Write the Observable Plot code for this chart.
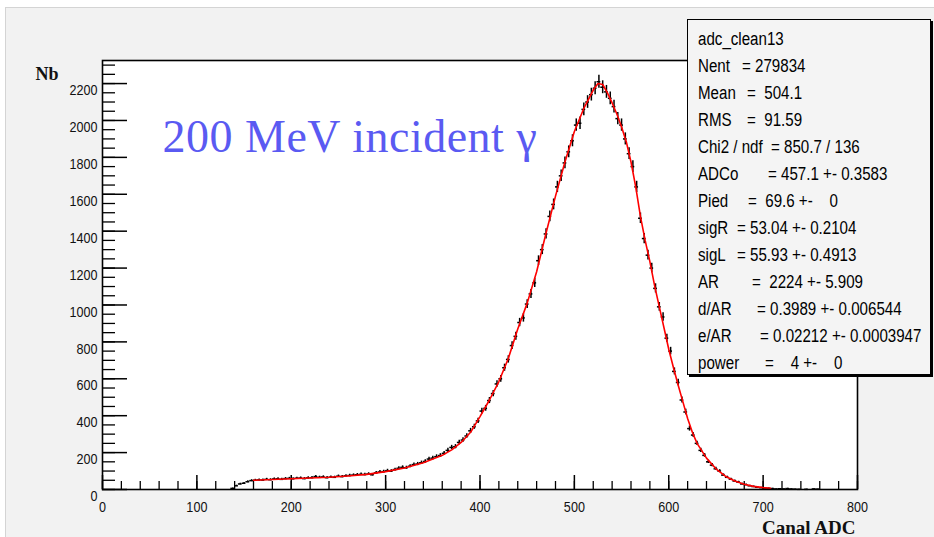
<!DOCTYPE html>
<html>
<head>
<meta charset="utf-8">
<script src="https://cdn.jsdelivr.net/npm/d3@7"></script>
<script src="https://cdn.jsdelivr.net/npm/@observablehq/plot@0.6"></script>
<style>
  html, body { margin: 0; padding: 0; background: #fff; }
  #canvas { position: relative; width: 934px; height: 537px; overflow: hidden; }
  #pad { position: absolute; left: 5px; top: 7px; right: 0; bottom: 0; background: #f2f2f2;
         border-left: 1px solid #d4d4d4; border-top: 1px solid #d4d4d4; }
  #chart { position: absolute; left: 0; top: 0; }
  #stats { position: absolute; left: 687px; top: 19px; width: 242px; height: 354px;
           background: #f4f4f4; border: 1.5px solid #000; box-shadow: 2px 2px 0 #000;
           overflow: hidden; font-family: "Liberation Sans", Arial, sans-serif;
           font-size: 18px; color: #000; }
  #stats div { position: absolute; white-space: pre; line-height: 1;
               transform: scaleX(0.84); transform-origin: 0 0; }
</style>
</head>
<body>
<div id="canvas">
  <div id="pad"></div>
  <div id="chart"></div>
  <div id="stats"></div>
</div>
<script>
// Histogram adc_clean13: 4-channel bins starting at channel 136
const binLow = 136;
const binWidth = 4;
const counts = [
  6, 20, 30, 34, 42, 48, 50, 52, 51, 55,
  53, 57, 58, 55, 59, 60, 58, 61, 62, 59,
  63, 64, 70, 66, 68, 64, 67, 66, 72, 70,
  74, 76, 78, 80, 82, 81, 84, 80, 90, 95,
  97, 102, 100, 108, 115, 120, 118, 126, 135, 138,
  145, 152, 165, 170, 178, 184, 196, 212, 228, 232,
  255, 268, 290, 318, 340, 372, 425, 440, 482, 520,
  572, 600, 660, 705, 780, 830, 905, 930, 1005, 1060,
  1120, 1240, 1300, 1385, 1480, 1545, 1640, 1700, 1770, 1830,
  1890, 1975, 1985, 2060, 2100, 2140, 2175, 2210, 2180, 2155,
  2120, 2075, 2010, 1975, 1900, 1820, 1750, 1640, 1470, 1360,
  1270, 1200, 1090, 990, 935, 820, 750, 640, 580, 485,
  420, 330, 295, 250, 212, 185, 150, 132, 112, 100,
  78, 66, 56, 46, 40, 30, 26, 20, 16, 12,
  10, 8, 6, 5, 3, 4, 3, 5, 3, 2,
  1, 0, 1, 0, 3, 2
];

// Fitted function, sampled along the fit range
const fitX = [160, 180, 200, 220, 240, 260, 280, 300, 320, 340, 360, 370, 380, 390, 400, 410, 420, 430, 440, 450,
              460, 470, 480, 490, 500, 510, 520, 525, 530, 535, 540, 545, 550, 555, 560, 565, 570, 575, 580, 585,
              590, 595, 600, 605, 610, 615, 620, 625, 630, 640, 650, 660, 670, 680, 690, 700, 708];
const fitY = [50, 54, 58, 62, 66, 73, 82, 97, 117, 145, 185, 215, 255, 310, 395, 485, 585, 710, 870, 1010,
              1180, 1390, 1590, 1775, 1940, 2065, 2165, 2200, 2195, 2150, 2095, 2035, 1965, 1885, 1775, 1640, 1480, 1350, 1235, 1105,
              990, 875, 760, 660, 565, 475, 385, 310, 250, 170, 112, 72, 46, 28, 17, 10, 6];

// Axis ticks and labels
const xMajorTicks = [0, 100, 200, 300, 400, 500, 600, 700, 800];
const xMinorTicks = d3.range(0, 801, 20);
const yMajorTicks = [0, 200, 400, 600, 800, 1000, 1200, 1400, 1600, 1800, 2000, 2200];
const yMinorTicks = d3.range(0, 2301, 50);

const titleText = "200 MeV incident \u03b3";
const xTitle = "Canal ADC";
const yTitle = "Nb";

// Fit statistics panel
const statsHeader = "adc_clean13";
const statsNames = ["Nent", "Mean", "RMS", "Chi2 / ndf", "ADCo", "Pied", "sigR", "sigL", "AR", "d/AR", "e/AR", "power"];
const statsValues = [
  "= 279834",
  "=  504.1",
  "=  91.59",
  "= 850.7 / 136",
  "= 457.1 +- 0.3583",
  "=  69.6 +-    0",
  "= 53.04 +- 0.2104",
  "= 55.93 +- 0.4913",
  "=  2224 +- 5.909",
  "= 0.3989 +- 0.006544",
  "= 0.02212 +- 0.0003947",
  "=    4 +-    0"
];

const bins = counts
  .map((n, i) => ({x: binLow + binWidth * (i + 0.5), n, err: 0.75 * Math.sqrt(n)}))
  .filter(d => d.n > 0);
const fit = fitX.map((x, i) => ({x, y: fitY[i]}));

const sans = "'Liberation Sans', Arial, sans-serif";
const serif = "'Liberation Serif', 'DejaVu Serif', serif";

const chart = Plot.plot({
  width: 934,
  height: 537,
  marginLeft: 102,
  marginRight: 77,
  marginTop: 60,
  marginBottom: 48,
  x: {domain: [0, 800], axis: null},
  y: {domain: [0, 2325], axis: null},
  style: {background: "transparent", overflow: "visible"},
  marks: [
    Plot.frame({fill: "white"}),
    // inward ticks along the left and bottom edges
    Plot.tickX(xMinorTicks, {x: d => d, insetTop: 421, stroke: "#000", strokeWidth: 1.3}),
    Plot.tickX(xMajorTicks, {x: d => d, insetTop: 415, stroke: "#000", strokeWidth: 1.5}),
    Plot.tickY(yMinorTicks, {y: d => d, insetRight: 742, stroke: "#000", strokeWidth: 1.3}),
    Plot.tickY(yMajorTicks, {y: d => d, insetRight: 730, stroke: "#000", strokeWidth: 1.5}),
    // histogram points with error bars
    Plot.ruleX(bins, {x: "x", y1: d => d.n - d.err, y2: d => d.n + d.err, stroke: "#000", strokeWidth: 1.5}),
    Plot.ruleY(bins, {y: "n", x1: d => d.x - binWidth / 2, x2: d => d.x + binWidth / 2, stroke: "#000", strokeWidth: 1.5}),
    // fit curve
    Plot.line(fit, {x: "x", y: "y", stroke: "#ff0000", strokeWidth: 1.6}),
    Plot.frame({stroke: "#000", strokeWidth: 1.6}),
    // tick labels
    Plot.text(xMajorTicks, {x: d => d, text: d => String(d), frameAnchor: "bottom", dy: 12, lineAnchor: "top",
      fontFamily: sans, fontSize: 15, fill: "#111"}),
    Plot.text(yMajorTicks, {y: d => d, text: d => String(d), frameAnchor: "left", dx: -5, dy: 1, lineAnchor: "top",
      textAnchor: "end", fontFamily: sans, fontSize: 15, fill: "#111"}),
    // axis titles
    Plot.text([yTitle], {text: d => d, frameAnchor: "top-left", dx: -67, dy: 19, lineAnchor: "bottom",
      textAnchor: "start", fontFamily: serif, fontWeight: "bold", fontSize: 18, fill: "#111"}),
    Plot.text([xTitle], {text: d => d, frameAnchor: "bottom-right", dx: -2, dy: 44, lineAnchor: "bottom",
      textAnchor: "end", fontFamily: serif, fontWeight: "bold", fontSize: 19, fill: "#111"}),
    // annotation
    Plot.text([titleText], {text: d => d, frameAnchor: "top-left", dx: 60, dy: 91, lineAnchor: "bottom",
      textAnchor: "start", fontFamily: serif, fontSize: 46, fill: "#5a5af2"})
  ]
});
document.getElementById("chart").appendChild(chart);

// narrow the tick labels horizontally; space out the annotation slightly
d3.select(chart).selectAll("text").each(function () {
  const t = d3.select(this);
  const s = t.text();
  if (s === titleText) { t.style("letter-spacing", "0.5px"); return; }
  if (s === xTitle || s === yTitle) return;
  const tr = t.attr("transform");
  t.attr("transform", (tr ? tr + " " : "") + "scale(0.84,1)");
});

// statistics panel rows
const box = document.getElementById("stats");
const boxLeft = 688.5;
const eqX = [742, 747, 747, 771, 768, 748, 737, 737, 752, 757, 760, 765];
function addCell(text, left, row) {
  const div = document.createElement("div");
  div.textContent = text;
  div.style.left = (left - boxLeft) + "px";
  div.style.top = (10 + row * 27) + "px";
  box.appendChild(div);
}
addCell(statsHeader, 698, 0);
statsNames.forEach((name, i) => {
  addCell(name, 698, i + 1);
  addCell(statsValues[i], eqX[i], i + 1);
});
</script>
</body>
</html>
